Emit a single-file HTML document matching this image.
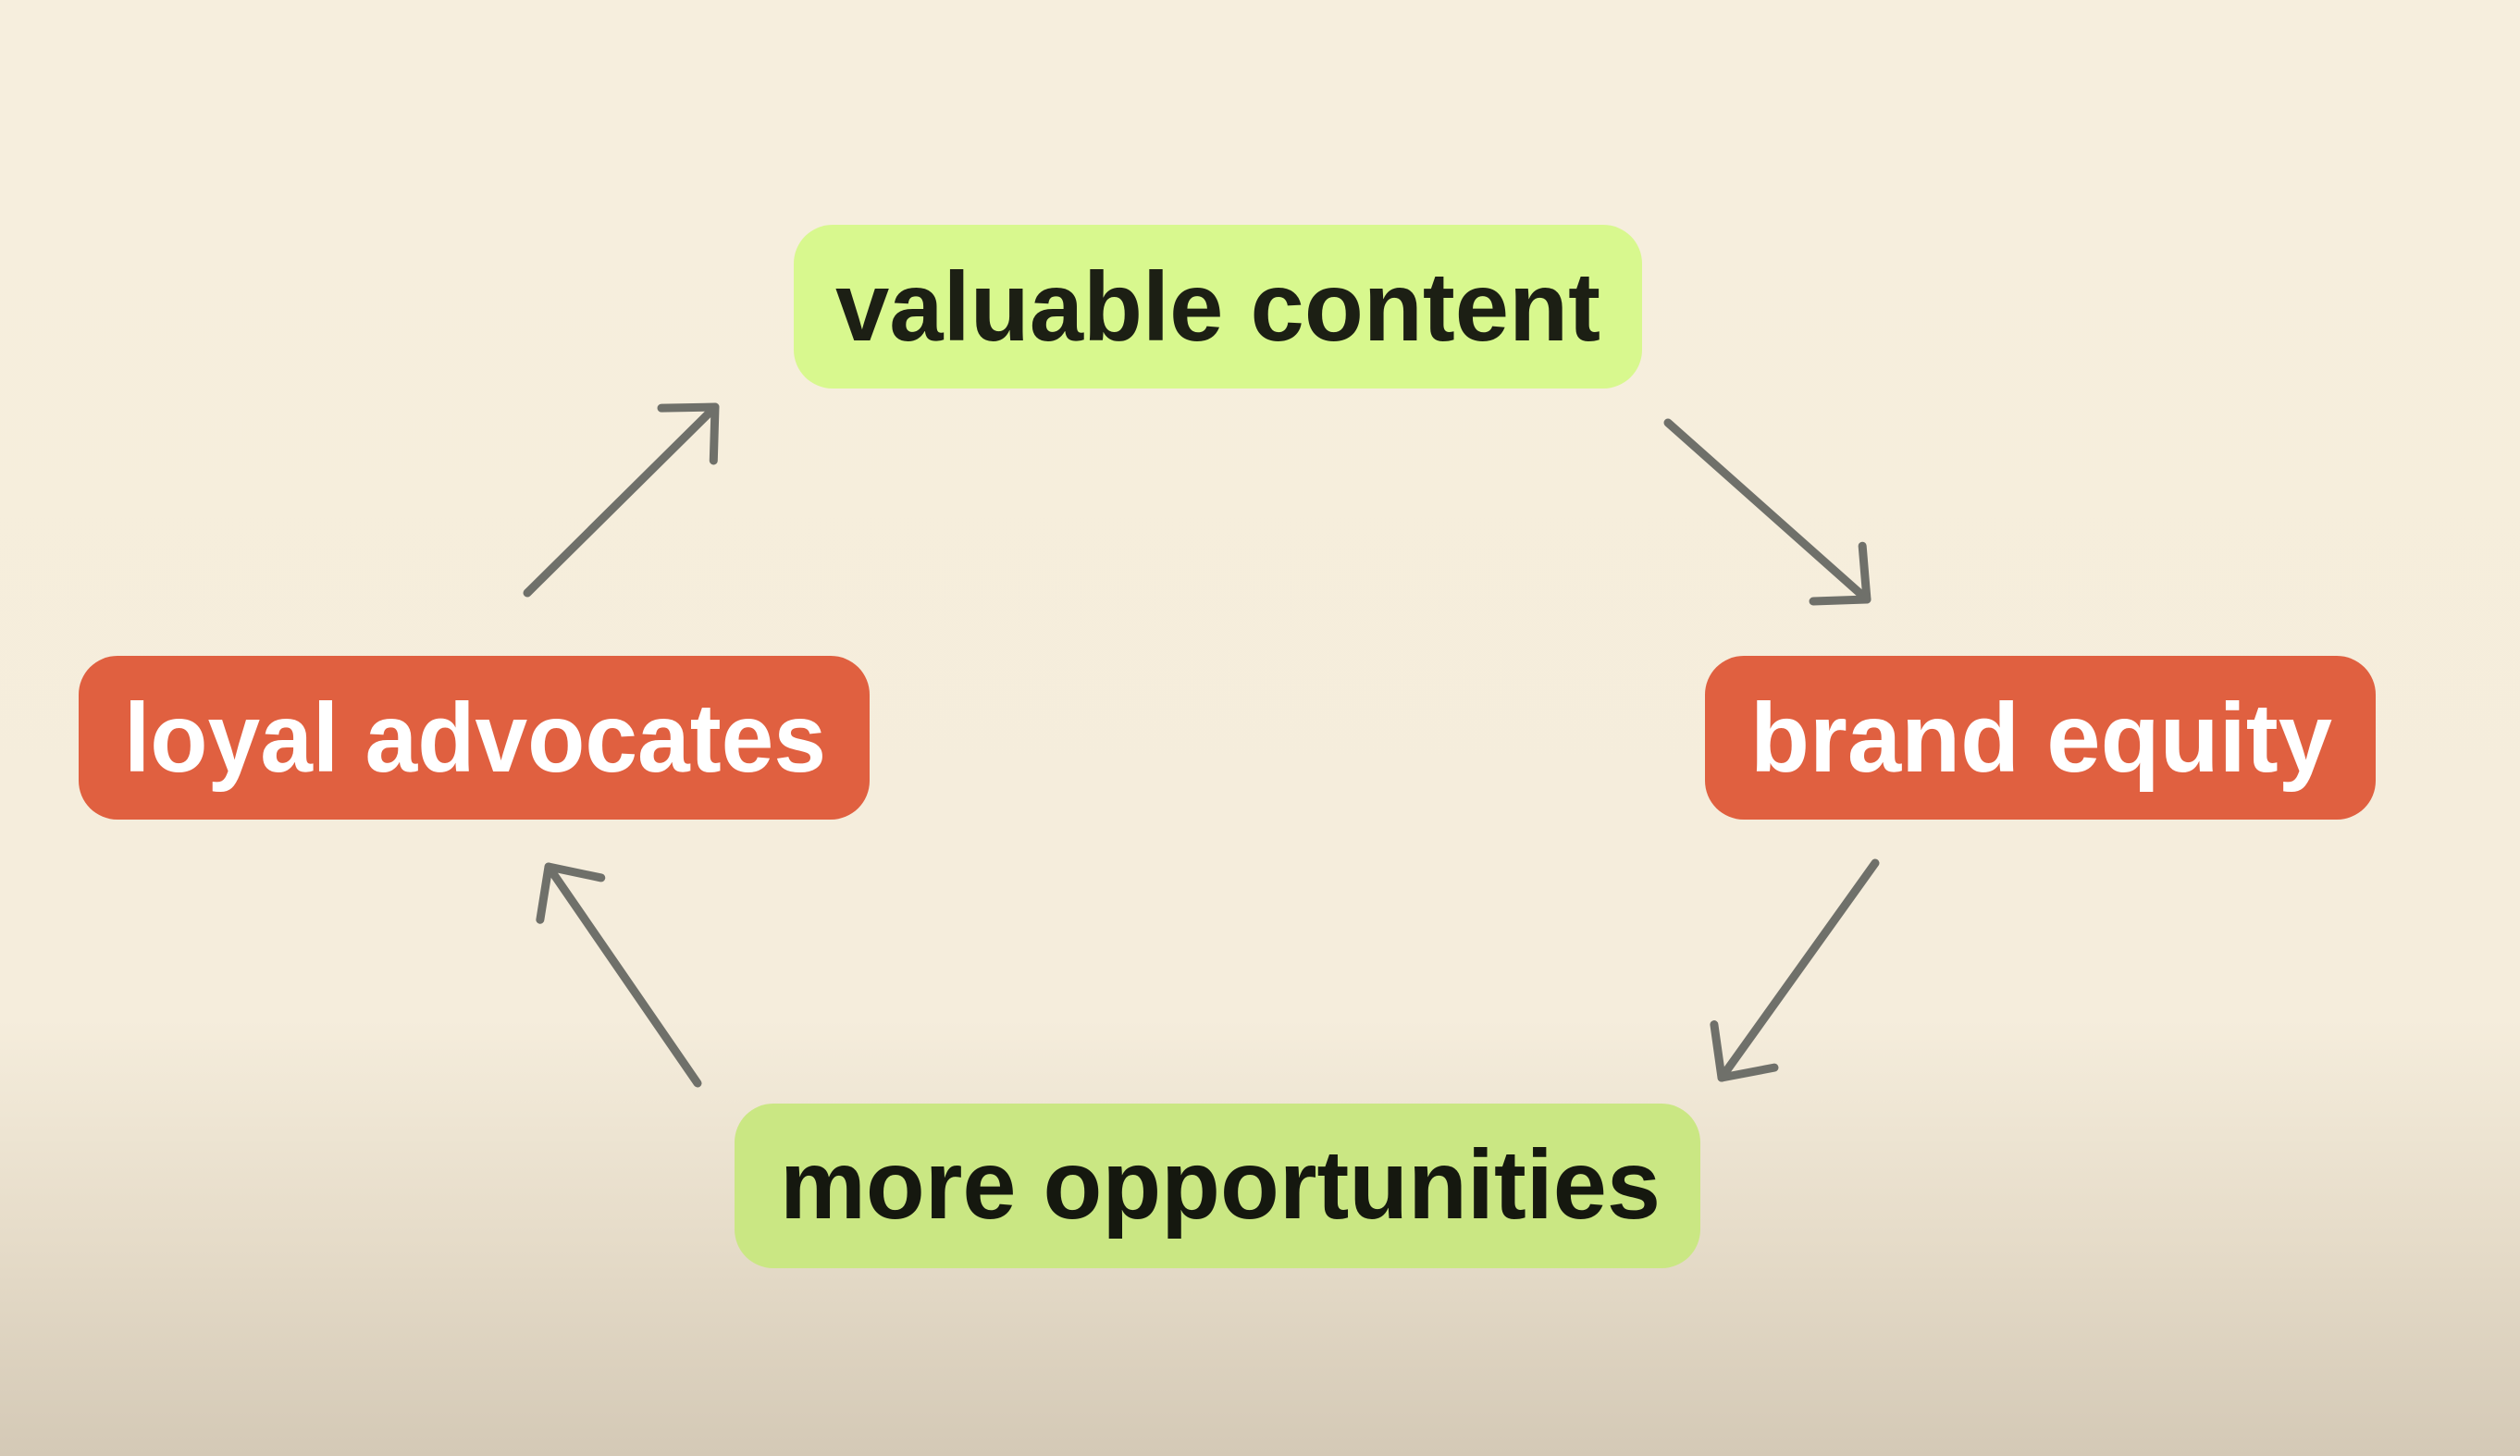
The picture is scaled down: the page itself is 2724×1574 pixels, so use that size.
<!DOCTYPE html>
<html><head><meta charset="utf-8"><style>
html,body{margin:0;padding:0}
body{width:2724px;height:1574px;overflow:hidden;background:linear-gradient(180deg,#f6eedd 0%,#f5eddc 70%,#e6dcc9 85%,#d4c9b6 100%)}
svg{display:block}
text{font-family:"Liberation Sans",sans-serif;font-weight:bold;font-size:106px}
</style></head><body>
<svg width="2724" height="1574" viewBox="0 0 2724 1574">
<defs>
<marker id="a" markerUnits="userSpaceOnUse" markerWidth="120" markerHeight="120" refX="60" refY="60" orient="auto">
<path d="M18 20 L60 60 L18 100" fill="none" stroke="#6f706a" stroke-width="9" stroke-linecap="round" stroke-linejoin="round"/>
</marker>
</defs>
<rect x="858" y="243" width="917" height="177" rx="42" fill="#d8f88e"/>
<rect x="85" y="709" width="855" height="177" rx="42" fill="#e06040"/>
<rect x="1843" y="709" width="725" height="177" rx="42" fill="#e06040"/>
<rect x="794" y="1193" width="1044" height="178" rx="42" fill="#cae783"/>
<text x="903" y="368" textLength="827" lengthAdjust="spacingAndGlyphs" fill="#1c1f14">valuable content</text>
<text x="134" y="834" textLength="759" lengthAdjust="spacingAndGlyphs" fill="#fff">loyal advocates</text>
<text x="1892" y="834" textLength="629" lengthAdjust="spacingAndGlyphs" fill="#fff">brand equity</text>
<text x="843" y="1317" textLength="952" lengthAdjust="spacingAndGlyphs" fill="#15180f">more opportunities</text>
<g fill="none" stroke="#6f706a" stroke-width="9" stroke-linecap="round">
<line x1="1803" y1="457" x2="2018" y2="648" marker-end="url(#a)"/>
<line x1="2027" y1="933" x2="1861" y2="1165" marker-end="url(#a)"/>
<line x1="754" y1="1171" x2="593" y2="937" marker-end="url(#a)"/>
<line x1="570" y1="641" x2="773" y2="440" marker-end="url(#a)"/>
</g>
</svg>
</body></html>
